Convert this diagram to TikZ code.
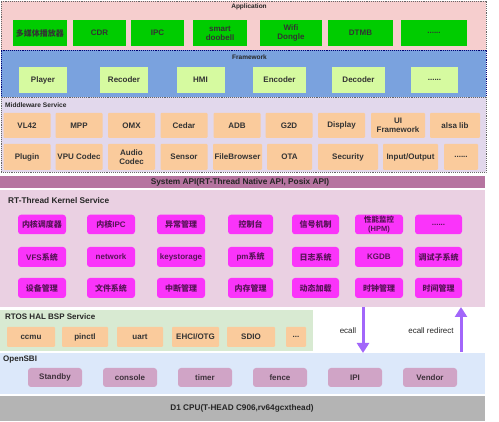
\documentclass[tikz,border=0pt]{standalone}
\usepackage{fontspec}
\setmainfont{Liberation Sans}
\newfontfamily\cjk{Noto Sans CJK SC}
\usetikzlibrary{arrows.meta}

\definecolor{apppink}{RGB}{246,206,206}
\definecolor{appgreen}{RGB}{0,204,0}
\definecolor{fwblue}{RGB}{122,162,222}
\definecolor{fwgreen}{RGB}{214,250,160}
\definecolor{mwlilac}{RGB}{226,216,236}
\definecolor{mworange}{RGB}{250,203,156}
\definecolor{apiplum}{RGB}{182,116,160}
\definecolor{kpink}{RGB}{234,208,226}
\definecolor{kmag}{RGB}{250,52,250}
\definecolor{halgreen}{RGB}{216,234,210}
\definecolor{sbiblue}{RGB}{220,232,250}
\definecolor{sbimauve}{RGB}{208,164,198}
\definecolor{cpugray}{RGB}{180,180,180}
\definecolor{callviolet}{RGB}{162,102,250}

\begin{document}
\begin{tikzpicture}[x=1pt,y=-1pt,
  layer/.style={anchor=north west, inner sep=0pt, outer sep=0pt},
  dotline/.style={draw=black!60, densely dotted, line width=0.9pt},
  title/.style={font=\fontsize{6.5}{7}\selectfont\bfseries, text=black!85, inner sep=0pt},
  lefttitle/.style={font=\fontsize{8}{8}\selectfont\bfseries, text=black!85, inner sep=0pt, anchor=west},
  box/.style={font=\fontsize{8}{9}\selectfont\bfseries, align=center, inner sep=0pt, text=black!80},
  appbox/.style={box, fill=appgreen, minimum width=53pt, minimum height=26pt},
  fwbox/.style={box, fill=fwgreen, minimum width=48pt, minimum height=26pt},
  mwbox/.style={box, fill=mworange, rounded corners=1pt, minimum width=47pt, minimum height=25pt},
  kbox/.style={box, fill=kmag, rounded corners=3pt, minimum width=48pt, minimum height=19.5pt, text=kmag!35!black},
  halbox/.style={box, fill=mworange, rounded corners=1pt, minimum width=47pt, minimum height=20pt},
  sbibox/.style={box, fill=sbimauve, rounded corners=3pt, minimum width=54pt, minimum height=19pt, text=sbimauve!30!black},
  callarrow/.style={draw=callviolet, line width=3pt, -{Triangle[width=12pt,length=10pt]}},
  calltext/.style={font=\fontsize{8}{8}\selectfont, text=black!85}]
\useasboundingbox (0,0) rectangle (499,422);

% layers
\node[layer, fill=apppink, dotline, minimum width=485pt, minimum height=49pt] (app) at (1,1) {};
\node[layer, fill=fwblue, dotline, draw=black!55!blue, minimum width=485pt, minimum height=47pt] (fw) at (1,50) {};
\node[layer, fill=mwlilac, dotline, minimum width=485pt, minimum height=75pt] (mw) at (1,97) {};
\node[layer, fill=apiplum, minimum width=485pt, minimum height=12pt] (api) at (0,176) {};
\node[layer, fill=kpink, minimum width=485pt, minimum height=117pt] (kernel) at (0,190) {};
\node[layer, fill=halgreen, minimum width=313pt, minimum height=41pt] (hal) at (0,310) {};
\node[layer, fill=sbiblue, minimum width=485pt, minimum height=41pt] (sbi) at (0,353) {};
\node[layer, fill=cpugray, minimum width=485pt, minimum height=25pt] (cpu) at (0,396) {};

% Application
\node[title] (apptitle) at (249,7) {Application};
\node[appbox, minimum width=54pt] (player1) at (40,33) {\cjk 多媒体播放器};
\node[appbox] (cdr) at (99.5,33) {CDR};
\node[appbox] (ipc) at (157.5,33) {IPC};
\node[appbox, minimum width=54pt] (doorbell) at (220,33) {smart\\doobell};
\node[appbox, minimum width=62pt] (wifi) at (291,33) {Wifi\\Dongle};
\node[appbox, minimum width=65pt] (dtmb) at (360.5,33) {DTMB};
\node[appbox, minimum width=66pt] (appmore) at (434,33) {......};

% Framework
\node[title] (fwtitle) at (249.5,57) {Framework};
\node[fwbox] (player) at (43,80) {Player};
\node[fwbox] (recoder) at (124,80) {Recoder};
\node[fwbox] (hmi) at (200.5,80) {HMI};
\node[fwbox, minimum width=53pt] (encoder) at (279.5,80) {Encoder};
\node[fwbox, minimum width=53pt] (decoder) at (358.5,80) {Decoder};
\node[fwbox, minimum width=47pt] (fwmore) at (434.5,80) {......};

% Middleware Service
\node[lefttitle, font=\fontsize{6.6}{7}\selectfont\bfseries] (mwtitle) at (5,105) {Middleware Service};
\node[mwbox] (vl42) at (27,125.5) {VL42}; \node[mwbox] (mpp) at (79,125.5) {MPP};
\node[mwbox] (omx) at (131.5,125.5) {OMX}; \node[mwbox] (cedar) at (184,125.5) {Cedar};
\node[mwbox] (adb) at (237,125.5) {ADB}; \node[mwbox] (g2d) at (289,125.5) {G2D};
\node[mwbox] (display) at (341.5,125.5) {Display};
\node[mwbox, minimum width=54pt] (uifw) at (398,125.5) {UI\\Framework};
\node[mwbox, minimum width=50pt] (alsa) at (455,125.5) {alsa lib};
\node[mwbox, minimum height=26pt] (plugin) at (27,157) {Plugin};
\node[mwbox, minimum height=26pt] (vpu) at (79,157) {VPU Codec};
\node[mwbox, minimum height=26pt] (audio) at (131.5,157) {Audio\\Codec};
\node[mwbox, minimum height=26pt] (sensor) at (184,157) {Sensor};
\node[mwbox, minimum height=26pt, minimum width=49pt] (filebrowser) at (237.5,157) {FileBrowser};
\node[mwbox, minimum height=26pt, minimum width=45pt] (ota) at (289.5,157) {OTA};
\node[mwbox, minimum height=26pt, minimum width=60pt] (security) at (348,157) {Security};
\node[mwbox, minimum height=26pt, minimum width=55pt] (inout) at (410.5,157) {Input/Output};
\node[mwbox, minimum height=26pt, minimum width=34pt] (mwmore) at (461,157) {......};

% System API
\node[lefttitle, anchor=center, font=\fontsize{8.3}{8}\selectfont\bfseries] (apitext) at (240,182) {System API(RT-Thread Native API, Posix API)};

% RT-Thread Kernel Service
\node[lefttitle, font=\fontsize{8.3}{8}\selectfont\bfseries] (ktitle) at (8,201) {RT-Thread Kernel Service};
\node[kbox] (sched) at (42,224.5) {\cjk 内核调度器};
\node[kbox] (kipc) at (111,224.5) {{\cjk 内核}IPC};
\node[kbox] (except) at (181,224.5) {\cjk 异常管理};
\node[kbox, minimum width=45pt] (console) at (250.5,224.5) {\cjk 控制台};
\node[kbox, minimum width=47pt] (signal) at (315.5,224.5) {\cjk 信号机制};
\node[kbox, font=\fontsize{7.5}{8.5}\selectfont\bfseries] (hpm) at (379,224.5) {{\cjk 性能监控}\\(HPM)};
\node[kbox, minimum width=47pt] (kmore) at (438.5,224.5) {......};
\node[kbox, minimum height=20pt] (vfs) at (42,257) {VFS{\cjk 系统}};
\node[kbox, minimum height=20pt] (network) at (111,257) {network};
\node[kbox, minimum height=20pt] (keystore) at (181,257) {keystorage};
\node[kbox, minimum height=20pt, minimum width=45pt] (pm) at (250.5,257) {pm{\cjk 系统}};
\node[kbox, minimum height=20pt, minimum width=47pt] (log) at (315.5,257) {\cjk 日志系统};
\node[kbox, minimum height=20pt] (kgdb) at (379,257) {KGDB};
\node[kbox, minimum height=20pt, minimum width=47pt] (debug) at (438.5,257) {\cjk 调试子系统};
\node[kbox, minimum height=20pt] (device) at (42,288) {\cjk 设备管理};
\node[kbox, minimum height=20pt] (filesys) at (111,288) {\cjk 文件系统};
\node[kbox, minimum height=20pt] (irq) at (181,288) {\cjk 中断管理};
\node[kbox, minimum height=20pt, minimum width=45pt] (memory) at (250.5,288) {\cjk 内存管理};
\node[kbox, minimum height=20pt, minimum width=47pt] (dynload) at (315.5,288) {\cjk 动态加载};
\node[kbox, minimum height=20pt] (clock) at (379,288) {\cjk 时钟管理};
\node[kbox, minimum height=20pt, minimum width=47pt] (time) at (438.5,288) {\cjk 时间管理};

% RTOS HAL BSP Service
\node[lefttitle] (haltitle) at (5,317) {RTOS HAL BSP Service};
\node[halbox, minimum width=48pt] (ccmu) at (31,337) {ccmu};
\node[halbox, minimum width=46pt] (pinctl) at (85,337) {pinctl};
\node[halbox, minimum width=46pt] (uart) at (140,337) {uart};
\node[halbox] (ehci) at (195.5,337) {EHCI/OTG};
\node[halbox, minimum width=48pt] (sdio) at (251,337) {SDIO};
\node[halbox, minimum width=20pt] (halmore) at (296,337) {...};

% OpenSBI
\node[lefttitle] (sbititle) at (3,360) {OpenSBI};
\node[sbibox] (standby) at (55,377.5) {Standby};
\node[sbibox] (sbiconsole) at (130,377.5) {console};
\node[sbibox] (timer) at (205,377.5) {timer};
\node[sbibox] (fence) at (280,377.5) {fence};
\node[sbibox] (ipi) at (355,377.5) {IPI};
\node[sbibox] (vendor) at (430,377.5) {Vendor};

% D1 CPU
\node[lefttitle, anchor=center, font=\fontsize{8.2}{8}\selectfont\bfseries] (cputext) at (242,408.5) {D1 CPU(T-HEAD C906,rv64gcxthead)};

% ecall / ecall redirect
\coordinate (ecalltop) at (363,307); \coordinate (ecallbot) at (363,353);
\coordinate (redirbot) at (461,352); \coordinate (redirtop) at (461,307);
\draw[callarrow] (ecalltop) -- (ecallbot);
\draw[callarrow] (redirbot) -- (redirtop);
\node[calltext] (ecall) at (348,331) {ecall};
\node[calltext] (redirect) at (431,331) {ecall redirect};
\end{tikzpicture}
\end{document}
